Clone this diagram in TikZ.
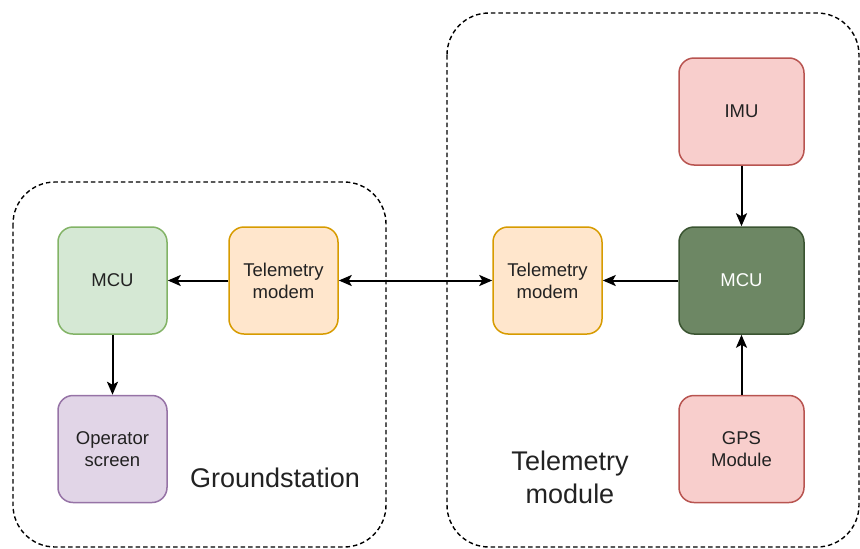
\documentclass[tikz,border=0pt]{standalone}
\usepackage{fontspec}
\setmainfont{Liberation Sans}
\usetikzlibrary{arrows.meta}
\definecolor{gfill}{HTML}{D5E8D4}\definecolor{gdraw}{HTML}{82B366}
\definecolor{ofill}{HTML}{FFE6CC}\definecolor{odraw}{HTML}{D79B00}
\definecolor{pfill}{HTML}{E1D5E7}\definecolor{pdraw}{HTML}{9673A6}
\definecolor{rfill}{HTML}{F8CECC}\definecolor{rdraw}{HTML}{B85450}
\definecolor{dfill}{HTML}{6D8764}\definecolor{ddraw}{HTML}{3A5431}
\definecolor{txt}{HTML}{222222}
\tikzset{
  blk/.style={draw, line width=1.5pt, rounded corners=15pt, minimum width=109pt, minimum height=107pt,
    inner sep=0pt, align=center, font=\fontsize{18.5}{22}\selectfont, text=txt},
  wide/.style={blk, minimum width=125pt},
  tip/.tip={Stealth[length=13pt,width=11pt,inset=3pt]},
  conn/.style={line width=2pt, -tip},
  grp/.style={draw, dashed, dash pattern=on 4.5pt off 3pt, line width=1.4pt, rounded corners=42pt},
  big/.style={font=\fontsize{27}{33}\selectfont, align=center, text=txt}
}
\begin{document}
\begin{tikzpicture}[x=1pt,y=-1pt]
\useasboundingbox (0,0) rectangle (860,549);
\draw[grp] (13,182) rectangle (386,547);
\draw[grp] (447,13) rectangle (859,547);
\node[blk, fill=gfill, draw=gdraw] (gmcu) at (112.5,280.5) {MCU};
\node[blk, fill=ofill, draw=odraw] (gmod) at (283.5,280.5) {Telemetry\\modem};
\node[blk, fill=pfill, draw=pdraw] (op) at (112.5,449) {Operator\\screen};
\node[blk, fill=ofill, draw=odraw] (tmod) at (547.5,280.5) {Telemetry\\modem};
\node[wide, fill=rfill, draw=rdraw] (imu) at (741.5,111.5) {IMU};
\node[wide, fill=dfill, draw=ddraw, text=white] (tmcu) at (741.5,280.5) {MCU};
\node[wide, fill=rfill, draw=rdraw] (gps) at (741.5,449) {GPS\\Module};
\node[big] (gslabel) at (275,478) {Groundstation};
\node[big] (tmlabel) at (570,477) {Telemetry\\module};
\draw[conn] (gmod) -- (gmcu);
\draw[conn] (gmcu) -- (op);
\draw[conn, tip-tip] (gmod) -- (tmod);
\draw[conn] (tmcu) -- (tmod);
\draw[conn] (imu) -- (tmcu);
\draw[conn] (gps) -- (tmcu);
\end{tikzpicture}
\end{document}
